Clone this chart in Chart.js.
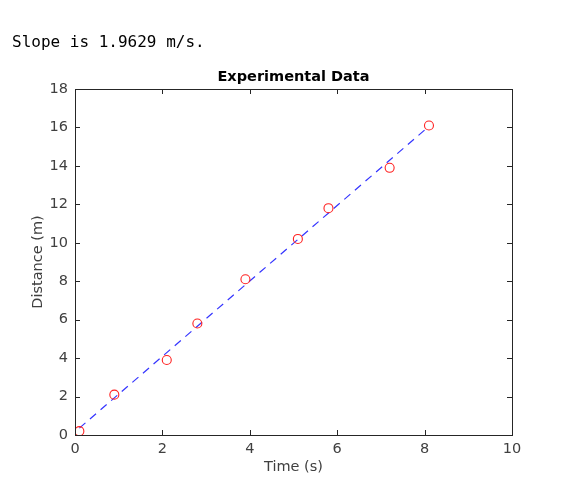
<!DOCTYPE html>
<html>
<head>
<meta charset="utf-8">
<script src="https://cdn.jsdelivr.net/npm/chart.js@4"></script>
<style>
  html, body { margin: 0; padding: 0; background: #fff; }
  #wrap { position: relative; width: 566px; height: 488px; }
  #slope {
    position: absolute; left: 12px; top: 32px;
    font: 16px "DejaVu Sans Mono", monospace; color: #000; white-space: pre;
  }
  #myChart { position: absolute; left: 0; top: 0; }
</style>
</head>
<body>
<div id="wrap">
  <canvas id="myChart" width="566" height="488"></canvas>
  <div id="slope">Slope is 1.9629 m/s.</div>
</div>
<script>
const timeValues = [0.1, 0.9, 2.1, 2.8, 3.9, 5.1, 5.8, 7.2, 8.1];
const distanceValues = [0.2, 2.1, 3.9, 5.8, 8.1, 10.2, 11.8, 13.9, 16.1];
const fitTime = [0.1, 8.1];
const fitDistance = [0.36, 16.06];
const xTicks = [0, 2, 4, 6, 8, 10];
const yTicks = [0, 2, 4, 6, 8, 10, 12, 14, 16, 18];

const axisColor = '#262626';
const labelColor = '#404040';
const fontSize = 14.5;

// MATLAB style box with inward ticks on all sides
const boxTicks = {
    id: 'boxTicks',
    afterDraw(chart) {
        const { ctx, chartArea: a, scales } = chart;
        const len = 5;
        ctx.save();
        ctx.strokeStyle = axisColor;
        ctx.lineWidth = 1;
        ctx.beginPath();
        scales.x.ticks.forEach(t => {
            const px = Math.round(scales.x.getPixelForValue(t.value)) + 0.5;
            ctx.moveTo(px, a.bottom); ctx.lineTo(px, a.bottom - len);
            ctx.moveTo(px, a.top); ctx.lineTo(px, a.top + len);
        });
        scales.y.ticks.forEach(t => {
            const py = Math.round(scales.y.getPixelForValue(t.value)) + 0.5;
            ctx.moveTo(a.left, py); ctx.lineTo(a.left + len, py);
            ctx.moveTo(a.right, py); ctx.lineTo(a.right - len, py);
        });
        ctx.stroke();
        ctx.strokeRect(Math.round(a.left) + 0.5, Math.round(a.top) + 0.5,
            Math.round(a.right - a.left), Math.round(a.bottom - a.top));
        ctx.restore();
    }
};

const ctx = document.getElementById('myChart').getContext('2d');
const myChart = new Chart(ctx, {
    type: 'scatter',
    data: {
        datasets: [{
            label: 'Data',
            data: timeValues.map((t, i) => ({ x: t, y: distanceValues[i] })),
            showLine: false,
            pointStyle: 'circle',
            pointRadius: 4.5,
            pointBorderWidth: 1.1,
            pointBorderColor: '#ff2020',
            pointBackgroundColor: 'rgba(0,0,0,0)',
        }, {
            label: 'Fit',
            data: fitTime.map((t, i) => ({ x: t, y: fitDistance[i] })),
            showLine: true,
            borderColor: 'rgba(30,30,255,0.9)',
            borderWidth: 1.2,
            borderDash: [8, 6],
            pointRadius: 0,
            fill: false,
        }]
    },
    options: {
        responsive: false,
        animation: false,
        layout: { padding: { left: 0, right: 54, top: 0, bottom: 0 } },
        plugins: {
            legend: { display: false },
            tooltip: { enabled: false },
            title: {
                display: true,
                fullSize: false,
                text: 'Experimental Data',
                color: '#000',
                font: { family: 'DejaVu Sans', size: fontSize, weight: 'bold' },
                padding: { top: 68.3, bottom: 3.3 }
            }
        },
        scales: {
            x: {
                type: 'linear',
                min: 0, max: 10,
                afterBuildTicks: s => { s.ticks = xTicks.map(v => ({ value: v })); },
                afterFit: s => { s.height = 53; },
                grid: { display: false, drawTicks: false },
                border: { display: false },
                ticks: {
                    color: labelColor, padding: 5.5, maxRotation: 0,
                    font: { family: 'DejaVu Sans', size: fontSize }
                },
                title: {
                    display: true, text: 'Time (s)', color: labelColor,
                    font: { family: 'DejaVu Sans', size: fontSize },
                    padding: { top: 0, bottom: 12.3 }
                }
            },
            y: {
                type: 'linear',
                min: 0, max: 18,
                afterBuildTicks: s => { s.ticks = yTicks.map(v => ({ value: v })); },
                afterFit: s => { s.width = 75; },
                grid: { display: false, drawTicks: false },
                border: { display: false },
                ticks: {
                    color: labelColor, padding: 7,
                    font: { family: 'DejaVu Sans', size: fontSize }
                },
                title: {
                    display: true, text: 'Distance (m)', color: labelColor,
                    font: { family: 'DejaVu Sans', size: fontSize },
                    padding: { top: 29.3, bottom: 0 }
                }
            }
        }
    },
    plugins: [boxTicks]
});
</script>
</body>
</html>
